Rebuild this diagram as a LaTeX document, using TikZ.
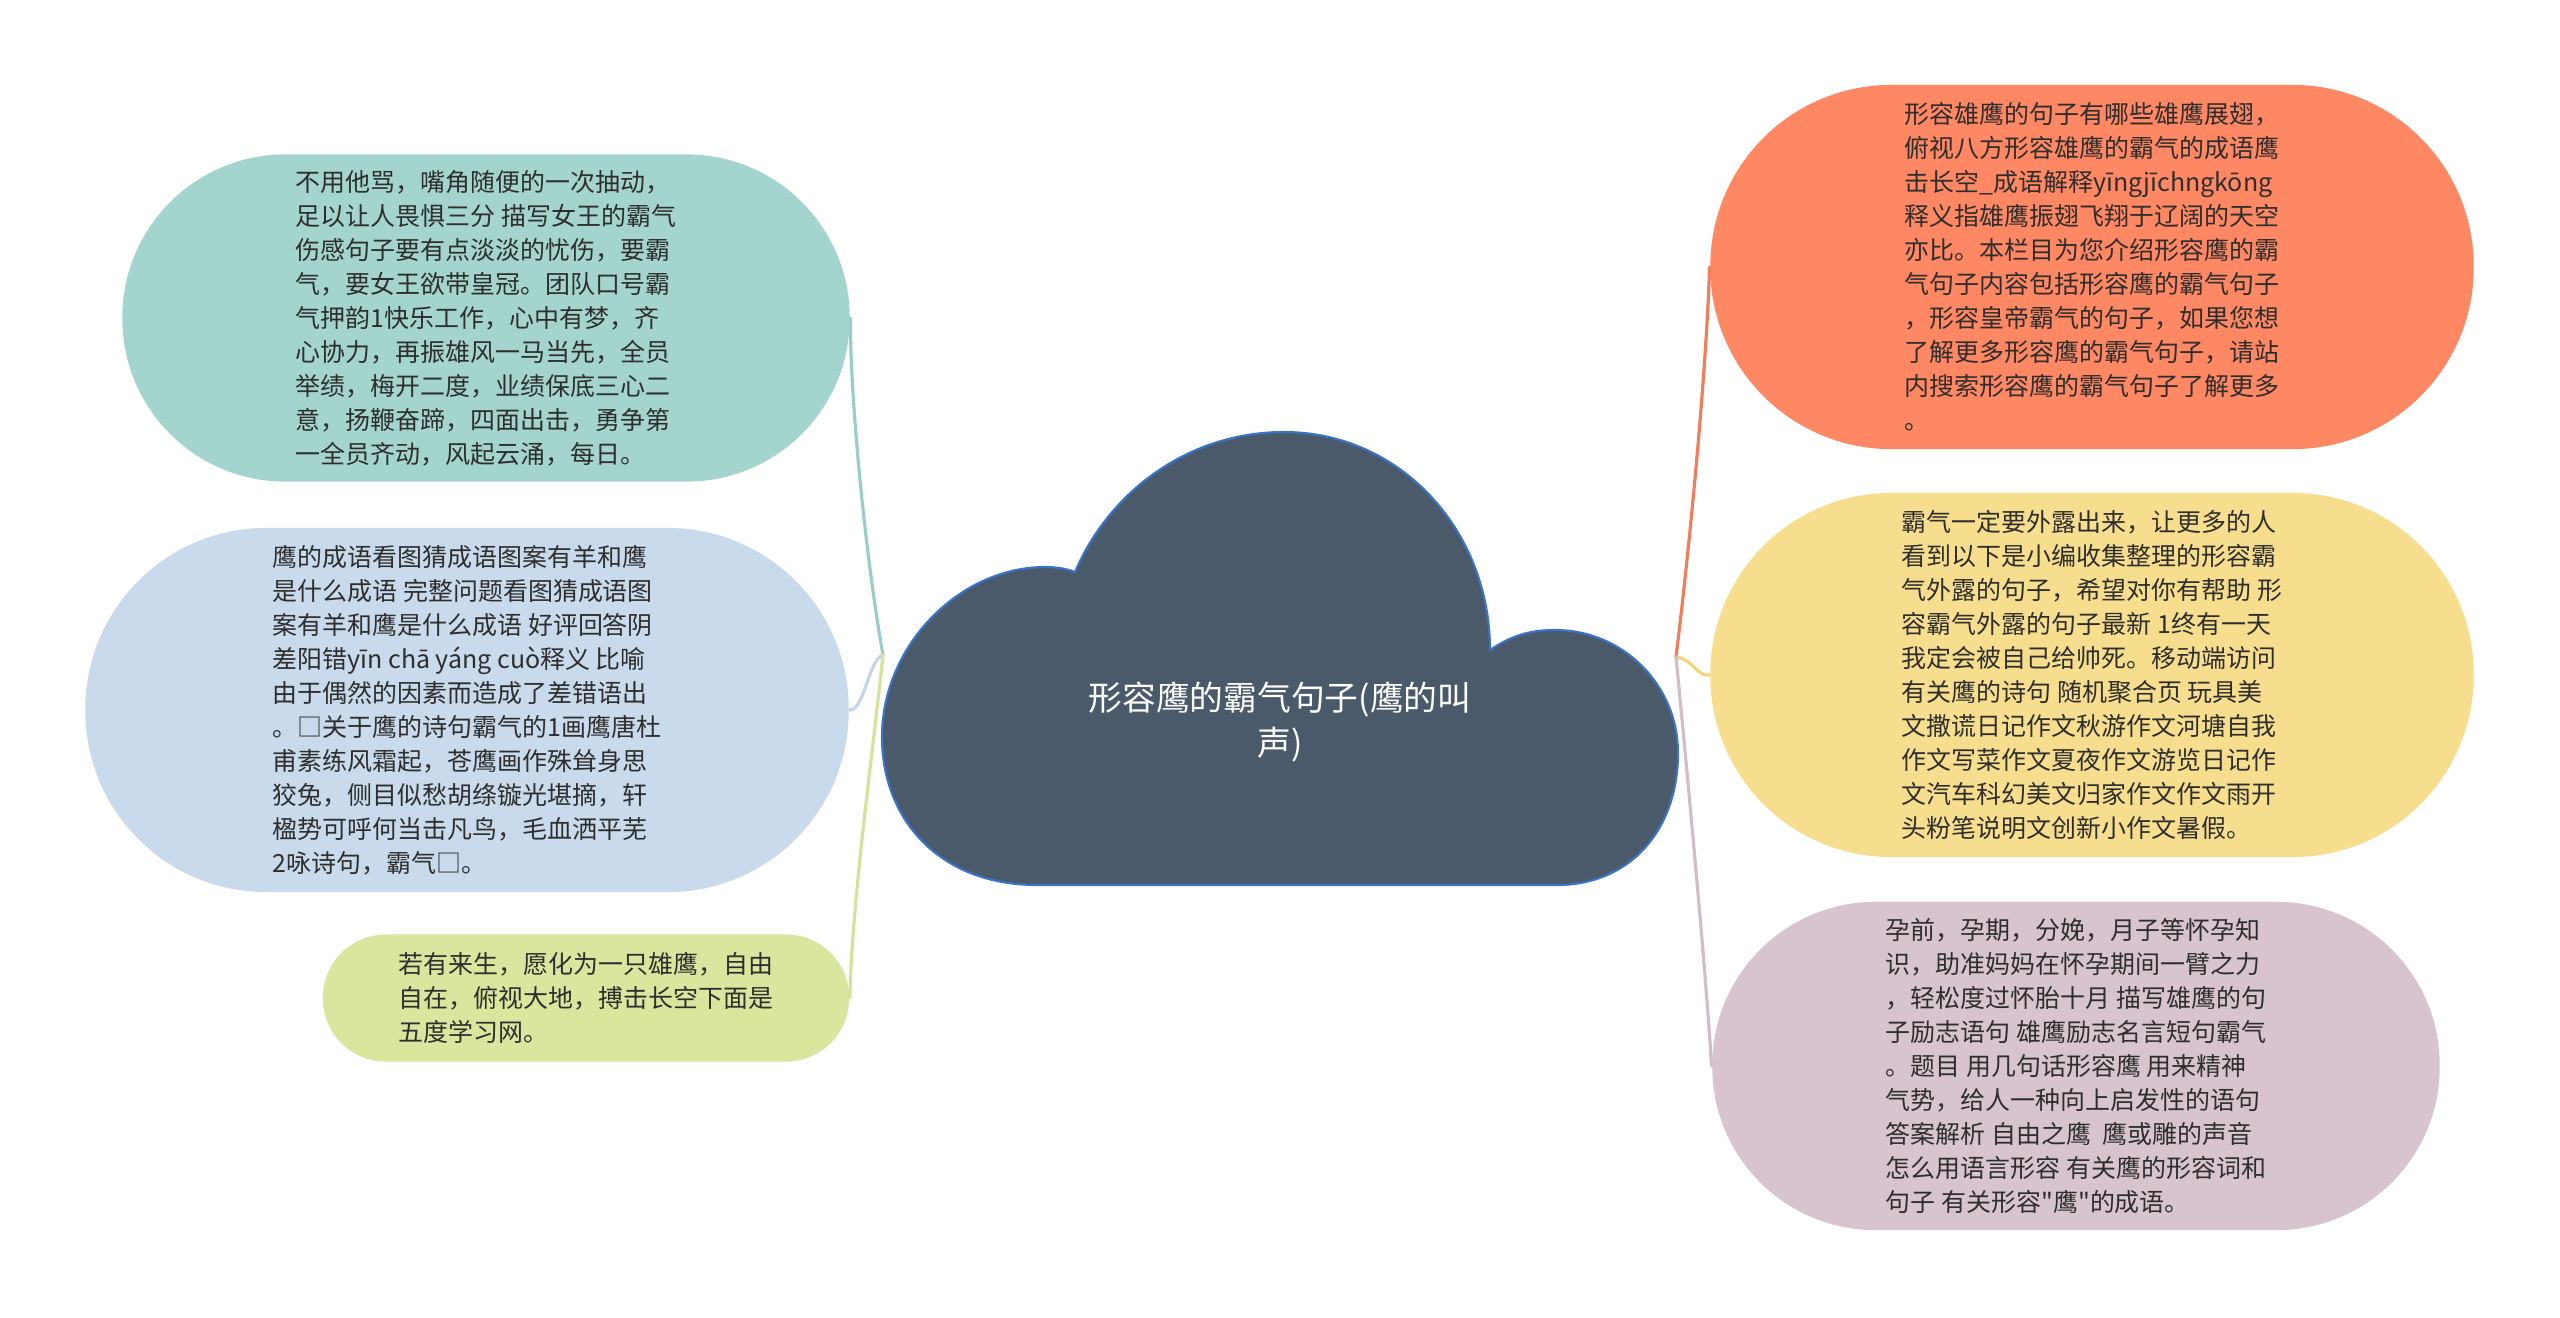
\documentclass[tikz,border=0pt]{standalone}
\usepackage{fontspec}
\setmainfont{Noto Sans CJK SC}[Ligatures=TeXOff]
\definecolor{tealnode}{HTML}{A3D5CE}
\definecolor{teallink}{HTML}{98CEC6}
\definecolor{bluenode}{HTML}{C8DAEB}
\definecolor{bluelink}{HTML}{C3D5E8}
\definecolor{greennode}{HTML}{D8E69E}
\definecolor{greenlink}{HTML}{D4E39A}
\definecolor{orangenode}{HTML}{FE8764}
\definecolor{orangelink}{HTML}{F07D5C}
\definecolor{yellownode}{HTML}{F7DE8E}
\definecolor{yellowlink}{HTML}{F2D67C}
\definecolor{pinknode}{HTML}{D8C4CE}
\definecolor{pinklink}{HTML}{D0BDC7}
\definecolor{cloudfill}{HTML}{4A5A6B}
\definecolor{cloudedge}{HTML}{3A74C9}
\definecolor{textgray}{HTML}{2E2E2E}
\begin{document}
\begin{tikzpicture}[x=0.01cm,y=-0.01cm,
  leaf/.style={rectangle, inner sep=0pt, align=left, text=textgray,
    font=\fontsize{7.1pt}{9.67pt}\selectfont},
  link/.style={line width=0.9pt, line cap=round}]
\fill[white] (0,0) rectangle (2560,1317);
\useasboundingbox (0,0) rectangle (2560,1317);

% central cloud
\filldraw[fill=cloudfill, draw=cloudedge, line width=0.6pt]
  (1037,885) .. controls (940,885) and (882,820) .. (882,737)
  .. controls (882,645) and (960,567) .. (1045,567)
  .. controls (1058,567) and (1067,569) .. (1075,572)
  .. controls (1110,490) and (1190,432) .. (1284,432)
  .. controls (1400,432) and (1490,530) .. (1490,650)
  .. controls (1515,633) and (1535,630) .. (1555,630)
  .. controls (1623,630) and (1678,685) .. (1678,753)
  .. controls (1678,830) and (1630,885) .. (1557,885)
  -- cycle;
\node[text=white, align=center, font=\fontsize{9.6pt}{12.8pt}\selectfont] (title) at (1280,722)
  {形容鹰的霸气句子(鹰的叫\\声)};

% junctions
\coordinate (J) at (883,655);
\coordinate (K) at (1676,657);

% left nodes
\node[leaf, fill=tealnode, minimum width=7.27cm, minimum height=3.27cm, rounded corners=1.63cm] (n1) at (486,318)
{不用他骂，嘴角随便的一次抽动，\\
足以让人畏惧三分 描写女王的霸气\\
伤感句子要有点淡淡的忧伤，要霸\\
气，要女王欲带皇冠。团队口号霸\\
气押韵1快乐工作，心中有梦，齐\\
心协力，再振雄风一马当先，全员\\
举绩，梅开二度，业绩保底三心二\\
意，扬鞭奋蹄，四面出击，勇争第\\
一全员齐动，风起云涌，每日。};

\node[leaf, fill=bluenode, minimum width=7.63cm, minimum height=3.64cm, rounded corners=1.81cm] (n2) at (467,710)
{鹰的成语看图猜成语图案有羊和鹰\\
是什么成语 完整问题看图猜成语图\\
案有羊和鹰是什么成语 好评回答阴\\
差阳错yīn chā yáng cuò释义 比喻\\
由于偶然的因素而造成了差错语出\\
。□关于鹰的诗句霸气的1画鹰唐杜\\
甫素练风霜起，苍鹰画作殊耸身思\\
狡兔，侧目似愁胡绦镟光堪摘，轩\\
楹势可呼何当击凡鸟，毛血洒平芜\\
2咏诗句，霸气□。};

\node[leaf, fill=greennode, minimum width=5.26cm, minimum height=1.27cm, rounded corners=0.63cm] (n3) at (586,998)
{若有来生，愿化为一只雄鹰，自由\\
自在，俯视大地，搏击长空下面是\\
五度学习网。};

% right nodes
\node[leaf, fill=orangenode, minimum width=7.63cm, minimum height=3.64cm, rounded corners=1.81cm] (n4) at (2092,267)
{形容雄鹰的句子有哪些雄鹰展翅，\\
俯视八方形容雄鹰的霸气的成语鹰\\
击长空\_成语解释yīngjīchngkōng\\
释义指雄鹰振翅飞翔于辽阔的天空\\
亦比。本栏目为您介绍形容鹰的霸\\
气句子内容包括形容鹰的霸气句子\\
，形容皇帝霸气的句子，如果您想\\
了解更多形容鹰的霸气句子，请站\\
内搜索形容鹰的霸气句子了解更多\\
。};

\node[leaf, fill=yellownode, minimum width=7.63cm, minimum height=3.64cm, rounded corners=1.81cm] (n5) at (2092,675)
{霸气一定要外露出来，让更多的人\\
看到以下是小编收集整理的形容霸\\
气外露的句子，希望对你有帮助 形\\
容霸气外露的句子最新 1终有一天\\
我定会被自己给帅死。移动端访问\\
有关鹰的诗句 随机聚合页 玩具美\\
文撒谎日记作文秋游作文河塘自我\\
作文写菜作文夏夜作文游览日记作\\
文汽车科幻美文归家作文作文雨开\\
头粉笔说明文创新小作文暑假。};

\node[leaf, fill=pinknode, minimum width=7.27cm, minimum height=3.28cm, rounded corners=1.63cm] (n6) at (2076,1066)
{孕前，孕期，分娩，月子等怀孕知\\
识，助准妈妈在怀孕期间一臂之力\\
，轻松度过怀胎十月 描写雄鹰的句\\
子励志语句 雄鹰励志名言短句霸气\\
。题目 用几句话形容鹰 用来精神\\
气势，给人一种向上启发性的语句\\
答案解析 自由之鹰\ \ 鹰或雕的声音\\
怎么用语言形容 有关鹰的形容词和\\
句子 有关形容"鹰"的成语。};

% connectors
\draw[link, teallink] (J) .. controls (866,560) and (850,400) .. (n1.east);
\draw[link, bluelink] (J) .. controls (868,660) and (865,710) .. (n2.east);
\draw[link, greenlink] (J) .. controls (872,760) and (852,900) .. (n3.east);
\draw[link, orangelink] (K) .. controls (1688,560) and (1706,380) .. (n4.west);
\draw[link, yellowlink] (K) .. controls (1695,660) and (1695,676) .. (n5.west);
\draw[link, pinklink] (K) .. controls (1686,760) and (1705,960) .. (n6.west);
\end{tikzpicture}
\end{document}
